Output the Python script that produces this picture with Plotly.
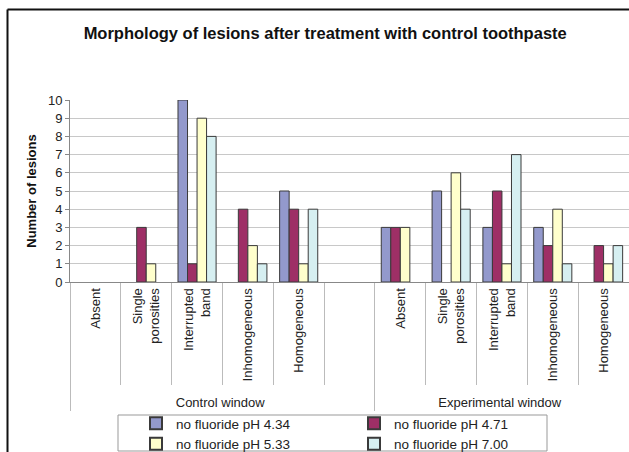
import plotly.graph_objects as go

windows = ["Control window"] * 6 + ["Experimental window"] * 5
morphology = ["Absent", "Single<br>porosities", "Interrupted<br>band", "Inhomogeneous", "Homogeneous", " ",
              "Absent", "Single<br>porosities", "Interrupted<br>band", "Inhomogeneous", "Homogeneous"]

series_names = ["no fluoride pH 4.34", "no fluoride pH 4.71", "no fluoride pH 5.33", "no fluoride pH 7.00"]
ph434 = [0, 0, 10, 0, 5, None, 3, 5, 3, 3, 0]
ph471 = [0, 3, 1, 4, 4, None, 3, 0, 5, 2, 2]
ph533 = [0, 1, 9, 2, 1, None, 3, 6, 1, 4, 1]
ph700 = [0, 0, 8, 1, 4, None, 0, 4, 7, 1, 2]
colors = ["#9399CC", "#9E2F66", "#FFFFCC", "#D6EFF1"]

y_ticks = list(range(0, 11))

FONT = "Arial, Liberation Sans, sans-serif"

# plot area in pixels
W, H = 629, 452
ML, MR, MT, MB = 70, 0, 100, 170
PW, PH = W - ML - MR, H - MT - MB


def px_x(p):
    return (p - ML) / PW


def px_y(p):
    return (H - MB - p) / PH


fig = go.Figure()
for name, vals, col in zip(series_names, [ph434, ph471, ph533, ph700], colors):
    fig.add_trace(go.Bar(
        x=[windows, morphology], y=vals, name=name,
        marker=dict(color=col,
                    line=dict(color="#3a3a3a",
                              width=[0 if (v is None or v == 0) else 1 for v in vals])),
    ))

fig.update_layout(
    width=W, height=H,
    margin=dict(l=ML, r=MR, t=MT, b=MB, autoexpand=False),
    paper_bgcolor="white", plot_bgcolor="white",
    barmode="group", bargap=0.25, bargroupgap=0,
    font=dict(family=FONT, size=13, color="#222"),
    title=dict(text="<b>Morphology of lesions after treatment with control toothpaste</b>",
               x=0.517, xanchor="center", y=1 - 33 / H, yanchor="middle",
               font=dict(family=FONT, size=16.5, color="#111")),
    showlegend=True,
    legend=dict(orientation="h", x=px_x(136), xanchor="left",
                yref="container", y=(H - 408) / H, yanchor="top",
                entrywidth=173, entrywidthmode="pixels",
                font=dict(family=FONT, size=13.5, color="#222"),
                bgcolor="rgba(0,0,0,0)", borderwidth=0,
                tracegroupgap=0, itemsizing="constant"),
)

fig.update_yaxes(
    range=[0, 10], tickvals=y_ticks, ticktext=[str(v) for v in y_ticks],
    showgrid=True, gridcolor="#c8c8c8", gridwidth=1,
    showline=True, linecolor="#888", linewidth=1,
    ticks="outside", ticklen=4, tickcolor="#888",
    tickfont=dict(family=FONT, size=13, color="#222"),
    title=dict(text="<b>Number of lesions</b>", font=dict(family=FONT, size=13, color="#111"), standoff=8),
    zeroline=False, fixedrange=True, automargin=False,
)
fig.update_xaxes(
    type="multicategory", tickangle=-90,
    showline=True, linecolor="#888", linewidth=1,
    ticks="outside", tickson="boundaries", ticklen=102, tickcolor="#bbb",
    showdividers=True, dividercolor="#bbb", dividerwidth=1,
    tickfont=dict(family=FONT, size=13, color="#222"),
    showgrid=False, fixedrange=True, automargin=False,
)

# chart frame (only left and top edges are visible in the reference) and legend box
fig.add_shape(type="line", xref="paper", yref="paper",
              x0=px_x(7.5), x1=px_x(7.5), y0=px_y(460), y1=px_y(9.5),
              line=dict(color="#111", width=2), layer="above")
fig.add_shape(type="line", xref="paper", yref="paper",
              x0=px_x(7.5), x1=px_x(640), y0=px_y(9.5), y1=px_y(9.5),
              line=dict(color="#111", width=2), layer="above")
fig.add_shape(type="rect", xref="paper", yref="paper",
              x0=px_x(118), x1=px_x(547), y0=px_y(451), y1=px_y(415),
              line=dict(color="#999", width=1), fillcolor="rgba(0,0,0,0)")

fig.write_html("out.html", config={"displayModeBar": False},
               post_script="document.body.style.margin='0';document.body.style.overflow='hidden';")
